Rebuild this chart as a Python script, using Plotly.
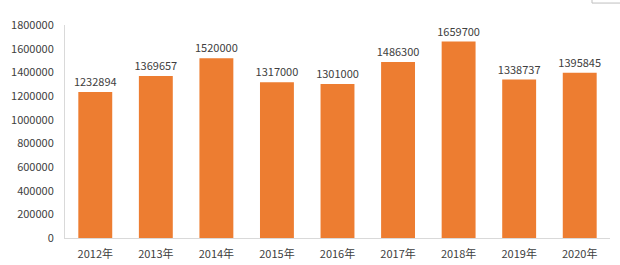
import plotly.graph_objects as go

years = ["2012年", "2013年", "2014年", "2015年", "2016年", "2017年", "2018年", "2019年", "2020年"]
values = [1232894, 1369657, 1520000, 1317000, 1301000, 1486300, 1659700, 1338737, 1395845]
y_ticks = [0, 200000, 400000, 600000, 800000, 1000000, 1200000, 1400000, 1600000, 1800000]

font_family = "Noto Sans CJK SC, Liberation Sans, sans-serif"

fig = go.Figure(go.Bar(
    x=years, y=values,
    marker=dict(color="#ED7D31", line=dict(width=0)),
    text=[str(v) for v in values],
    textposition="outside",
    constraintext="none",
    textfont=dict(size=11, color="#404040", family=font_family),
    cliponaxis=False,
))

fig.update_layout(
    width=620, height=265,
    margin=dict(l=65, r=10, t=25, b=27),
    paper_bgcolor="white", plot_bgcolor="white",
    bargap=0.44,
    showlegend=False,
    uniformtext=dict(mode=False),
    font=dict(family=font_family, size=11, color="#404040"),
    xaxis=dict(showline=True, linecolor="#D9D9D9", linewidth=1, ticks="", automargin=False,
               showgrid=False, ticklabelstandoff=6, tickfont=dict(size=11, color="#404040")),
    yaxis=dict(range=[0, 1800000], tickvals=y_ticks, ticktext=[str(t) for t in y_ticks],
               showline=True, linecolor="#D9D9D9", linewidth=1, showgrid=False, automargin=False,
               zeroline=False, ticks="", ticklabelstandoff=8,
               tickfont=dict(size=11, color="#404040")),
    shapes=[dict(type="rect", xref="paper", yref="paper", x0=0.967, x1=1.1, y0=1.103, y1=1.3,
                 line=dict(color="#BFBFBF", width=1))],
)

fig.write_html("out.html")
